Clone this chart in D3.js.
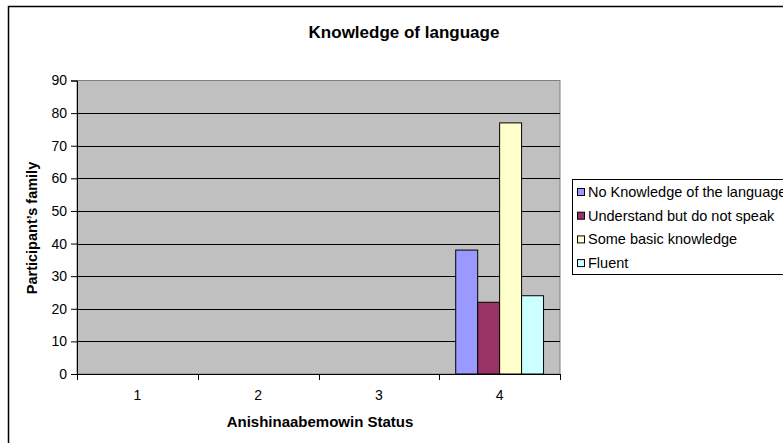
<!DOCTYPE html>
<html>
<head>
<meta charset="utf-8">
<script src="https://cdn.jsdelivr.net/npm/d3@7"></script>
<style>
  html, body { margin: 0; padding: 0; background: #ffffff; }
  svg { display: block; font-family: Arial, "Liberation Sans", sans-serif; }
</style>
</head>
<body>
<svg id="chart" width="783" height="443"></svg>
<script>
const chartTitle = "Knowledge of language";
const xAxisTitle = "Anishinaabemowin Status";
const yAxisTitle = "Participant\u2019s family";
const categories = ["1", "2", "3", "4"];
const seriesNames = ["No Knowledge of the language", "Understand but do not speak", "Some basic knowledge", "Fluent"];
const noKnowledge = [0, 0, 0, 38];
const understandNotSpeak = [0, 0, 0, 22];
const someBasic = [0, 0, 0, 77];
const fluent = [0, 0, 0, 24];
const seriesColors = ["#9999FF", "#993366", "#FFFFCC", "#CCFFFF"];
const yTicks = [0, 10, 20, 30, 40, 50, 60, 70, 80, 90];

const seriesValues = [noKnowledge, understandNotSpeak, someBasic, fluent];

const svg = d3.select("#chart");

// outer chart border (extends past right/bottom edges)
svg.append("rect")
  .attr("x", 8.5).attr("y", 6.5)
  .attr("width", 800).attr("height", 460)
  .attr("fill", "#ffffff")
  .attr("stroke", "#000000").attr("stroke-width", 1.5);

const plot = { left: 77, right: 560, top: 80.5, bottom: 374 };

const x = d3.scaleBand().domain(categories).range([plot.left, plot.right]).paddingInner(0).paddingOuter(0);
const y = d3.scaleLinear().domain([0, 90]).range([plot.bottom, plot.top]);

// gap width 150% -> group occupies 4/(4+1.5) of band
const groupFrac = 4 / 5.5;
const xInner = d3.scaleBand().domain(d3.range(seriesNames.length))
  .range([0, x.bandwidth() * groupFrac]);
const groupOffset = (x.bandwidth() * (1 - groupFrac)) / 2;

// plot area background
svg.append("rect")
  .attr("x", plot.left).attr("y", plot.top)
  .attr("width", plot.right - plot.left).attr("height", plot.bottom - plot.top)
  .attr("fill", "#C0C0C0")
  .attr("stroke", "#808080").attr("stroke-width", 1);

// gridlines
svg.append("g").selectAll("line")
  .data(yTicks.filter(d => d > 0 && d < 90))
  .join("line")
  .attr("x1", plot.left).attr("x2", plot.right)
  .attr("y1", d => Math.round(y(d)) + 0.5).attr("y2", d => Math.round(y(d)) + 0.5)
  .attr("stroke", "#000000").attr("stroke-width", 1);

// bars
const barsG = svg.append("g");
seriesValues.forEach((vals, si) => {
  barsG.append("g").selectAll("rect")
    .data(vals.map((v, i) => ({ cat: categories[i], v })).filter(d => d.v > 0))
    .join("rect")
    .attr("x", d => x(d.cat) + groupOffset + xInner(si))
    .attr("y", d => y(d.v))
    .attr("width", xInner.bandwidth())
    .attr("height", d => y(0) - y(d.v))
    .attr("fill", seriesColors[si])
    .attr("stroke", "#000000").attr("stroke-width", 1);
});

// y axis
const yAxis = d3.axisLeft(y).tickValues(yTicks).tickSize(6).tickPadding(4).tickFormat(d3.format("d"));
const yg = svg.append("g").attr("transform", `translate(${plot.left},0)`).call(yAxis);
yg.select(".domain").attr("stroke", "#000000");
yg.selectAll("line").attr("stroke", "#000000");
yg.selectAll("text").attr("font-size", "14px").attr("fill", "#000000")
  .attr("font-family", "Arial, 'Liberation Sans', sans-serif");

// x axis: ticks at category boundaries
const xg = svg.append("g").attr("transform", `translate(0,${plot.bottom})`);
xg.append("line").attr("x1", plot.left).attr("x2", plot.right).attr("y1", 0.5).attr("y2", 0.5)
  .attr("stroke", "#000000");
const boundaries = categories.map(c => x(c)).concat([x(categories[categories.length - 1]) + x.bandwidth()]);
xg.selectAll("line.tk").data(boundaries).join("line").attr("class", "tk")
  .attr("x1", d => Math.round(d) + 0.5).attr("x2", d => Math.round(d) + 0.5)
  .attr("y1", 0).attr("y2", 6).attr("stroke", "#000000");
xg.selectAll("text").data(categories).join("text")
  .attr("x", d => x(d) + x.bandwidth() / 2)
  .attr("y", 26)
  .attr("text-anchor", "middle")
  .attr("font-size", "14px")
  .text(d => d);

// titles
svg.append("text").attr("x", 404).attr("y", 38)
  .attr("text-anchor", "middle").attr("font-weight", "bold").attr("font-size", "17px")
  .text(chartTitle);
svg.append("text").attr("x", 320).attr("y", 427)
  .attr("text-anchor", "middle").attr("font-weight", "bold").attr("font-size", "15px")
  .text(xAxisTitle);
svg.append("text")
  .attr("transform", "translate(37,228) rotate(-90)")
  .attr("text-anchor", "middle").attr("font-weight", "bold").attr("font-size", "14.5px")
  .text(yAxisTitle);

// legend
const legend = svg.append("g");
legend.append("rect")
  .attr("x", 572.5).attr("y", 179.5).attr("width", 260).attr("height", 95)
  .attr("fill", "#ffffff").attr("stroke", "#000000").attr("stroke-width", 1);
const legendY0 = 192, legendStep = 23.7;
const items = legend.selectAll("g.item").data(seriesNames).join("g").attr("class", "item")
  .attr("transform", (d, i) => `translate(0,${legendY0 + i * legendStep})`);
items.append("rect")
  .attr("x", 577.5).attr("y", -3.5).attr("width", 7).attr("height", 7)
  .attr("fill", (d, i) => seriesColors[i]).attr("stroke", "#000000").attr("stroke-width", 1);
items.append("text")
  .attr("x", 588).attr("y", 5)
  .attr("font-size", "14.5px")
  .text(d => d);
</script>
</body>
</html>
